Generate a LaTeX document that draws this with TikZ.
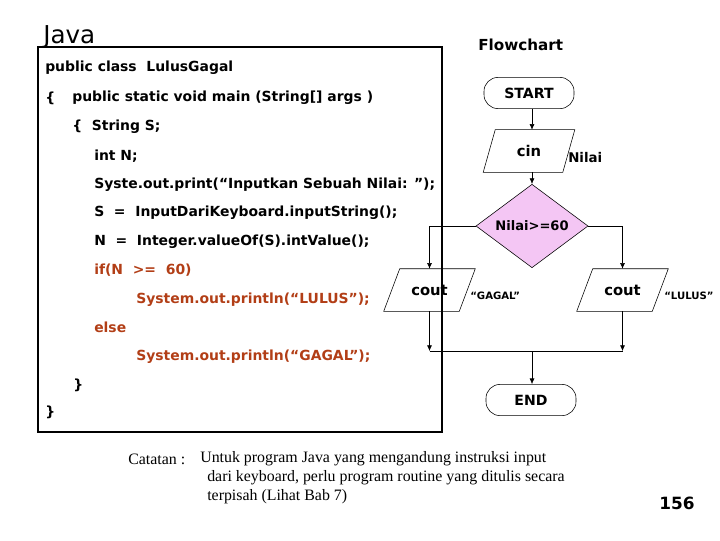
\documentclass[tikz,border=0pt]{standalone}
\usepackage{fontspec}
\setmainfont{Liberation Serif}
\setsansfont{DejaVu Sans}
\usepackage{tikz}
\usetikzlibrary{shapes,arrows.meta,positioning}
\usepackage{xcolor}
\definecolor{codered}{RGB}{178,62,22}
\definecolor{decpink}{RGB}{244,198,244}
\tikzset{
    codeline/.style={anchor=west, inner sep=0pt, font=\sffamily\bfseries\fontsize{9.9}{12}\selectfont},
    codeR/.style={codeline, text=codered},
    terminal/.style={rectangle, rounded corners=3.5mm, draw, thin, minimum width=2.25cm, minimum height=0.78cm, font=\sffamily\bfseries\fontsize{10}{12}\selectfont},
    inout/.style={rectangle, minimum width=1.975cm, minimum height=1.05cm, inner sep=0pt, font=\sffamily\bfseries\fontsize{10.5}{12}\selectfont,
        append after command={\pgfextra{\draw[thin] ([xshift=-#1]\tikzlastnode.south west) -- ([xshift=#1]\tikzlastnode.north west) -- ([xshift=#1]\tikzlastnode.north east) -- ([xshift=-#1]\tikzlastnode.south east) -- cycle;}}},
    inout/.default=0.15cm,
    decision/.style={diamond, draw, thin, fill=decpink, minimum width=2.8cm, minimum height=1.55cm, inner sep=0pt, font=\sffamily\bfseries\fontsize{9.3}{11}\selectfont},
    flow/.style={thin, -{Latex[length=4pt,width=3.5pt]}},
    conn/.style={thin},
    sidelabel/.style={anchor=west, inner sep=0pt, font=\sffamily\bfseries\fontsize{9.5}{11}\selectfont},
    smalllabel/.style={anchor=west, inner sep=0pt, font=\sffamily\bfseries\fontsize{7.2}{9}\selectfont},
    noteline/.style={anchor=west, inner sep=0pt, font=\fontsize{11.3}{13}\selectfont},
}

\begin{document}
\begin{tikzpicture}[x=0.025cm, y=-0.025cm]
    \useasboundingbox (0,0) rectangle (720,540);

    % Titles
    \node[anchor=west, inner sep=0pt, font=\sffamily\fontsize{17.5}{19}\selectfont] (java) at (43,37) {Java};
    \node[anchor=west, inner sep=0pt, font=\sffamily\bfseries\fontsize{10.8}{13}\selectfont] (fctitle) at (478,45) {Flowchart};

    % Flowchart
    \node[terminal] (start) at (529,93) {START};
    \node[inout] (cin) at (529,151) {cin};
    \node[sidelabel] (nilai) at (568,158) {Nilai};
    \node[decision] (dec) at (532,226) {Nilai>=60};
    \node[inout=0.2cm, minimum width=1.875cm] (gagal) at (429.5,290) {cout};
    \node[inout=0.2cm, minimum width=1.875cm] (lulus) at (622.5,290) {cout};
    \node[smalllabel] (gagaltxt) at (470,296) {“GAGAL”};
    \node[smalllabel] (lulustxt) at (664,296) {“LULUS”};
    \node[terminal] (end) at (531,400) {END};

    \coordinate (joinL) at (429.5,351);
    \coordinate (joinR) at (622.5,351);
    \coordinate (joinM) at (532,351);

    \draw[flow] (start.south -| dec.north) -- (cin.north -| dec.north);
    \draw[flow] (cin.south -| dec.north) -- (dec.north);
    \draw[flow] (dec.west) -| (gagal.north);
    \draw[flow] (dec.east) -| (lulus.north);
    \draw[flow] (gagal.south) -- (joinL);
    \draw[flow] (lulus.south) -- (joinR);
    \draw[conn] (joinL) -- (joinR);
    \draw[flow] (joinM) -- (end.north -| joinM);

    % Java code
    \draw[line width=1pt] (38,47) rectangle (442,432);
    \node[codeline] (c1) at (45,68) {public class\ \ LulusGagal};
    \node[codeline] (c2a) at (45,98) {\{};
    \node[codeline] (c2) at (72,98) {public static void main (String[] args )};
    \node[codeline] (c3) at (72,127) {\{\ \ String S;};
    \node[codeline] (c4) at (94,156) {int N;};
    \node[codeline] (c5) at (94,185) {Syste.out.print(“Inputkan Sebuah Nilai: ”);};
    \node[codeline] (c6) at (94,213) {S\ \ =\ \ InputDariKeyboard.inputString();};
    \node[codeline] (c7) at (94,242) {N\ \ =\ \ Integer.valueOf(S).intValue();};
    \node[codeR] (c8) at (94,270) {if(N\ \ >=\ \ 60)};
    \node[codeR] (c9) at (136,300) {System.out.println(“LULUS”);};
    \node[codeR] (c10) at (94,327) {else};
    \node[codeR] (c11) at (136,357) {System.out.println(“GAGAL”);};
    \node[codeline] (c12) at (73,385) {\}};
    \node[codeline] (c13) at (45,412) {\}};

    % Note
    \node[noteline] (cat) at (128,459) {Catatan :};
    \node[noteline] (n1) at (200,459) {Untuk program Java yang mengandung instruksi input};
    \node[noteline] (n2) at (207,478) {dari keyboard, perlu program routine yang ditulis secara};
    \node[noteline] (n3) at (207,497) {terpisah (Lihat Bab 7)};
    \node[anchor=west, inner sep=0pt, font=\sffamily\bfseries\fontsize{12}{14}\selectfont] (page) at (659,503) {156};
\end{tikzpicture}
\end{document}
